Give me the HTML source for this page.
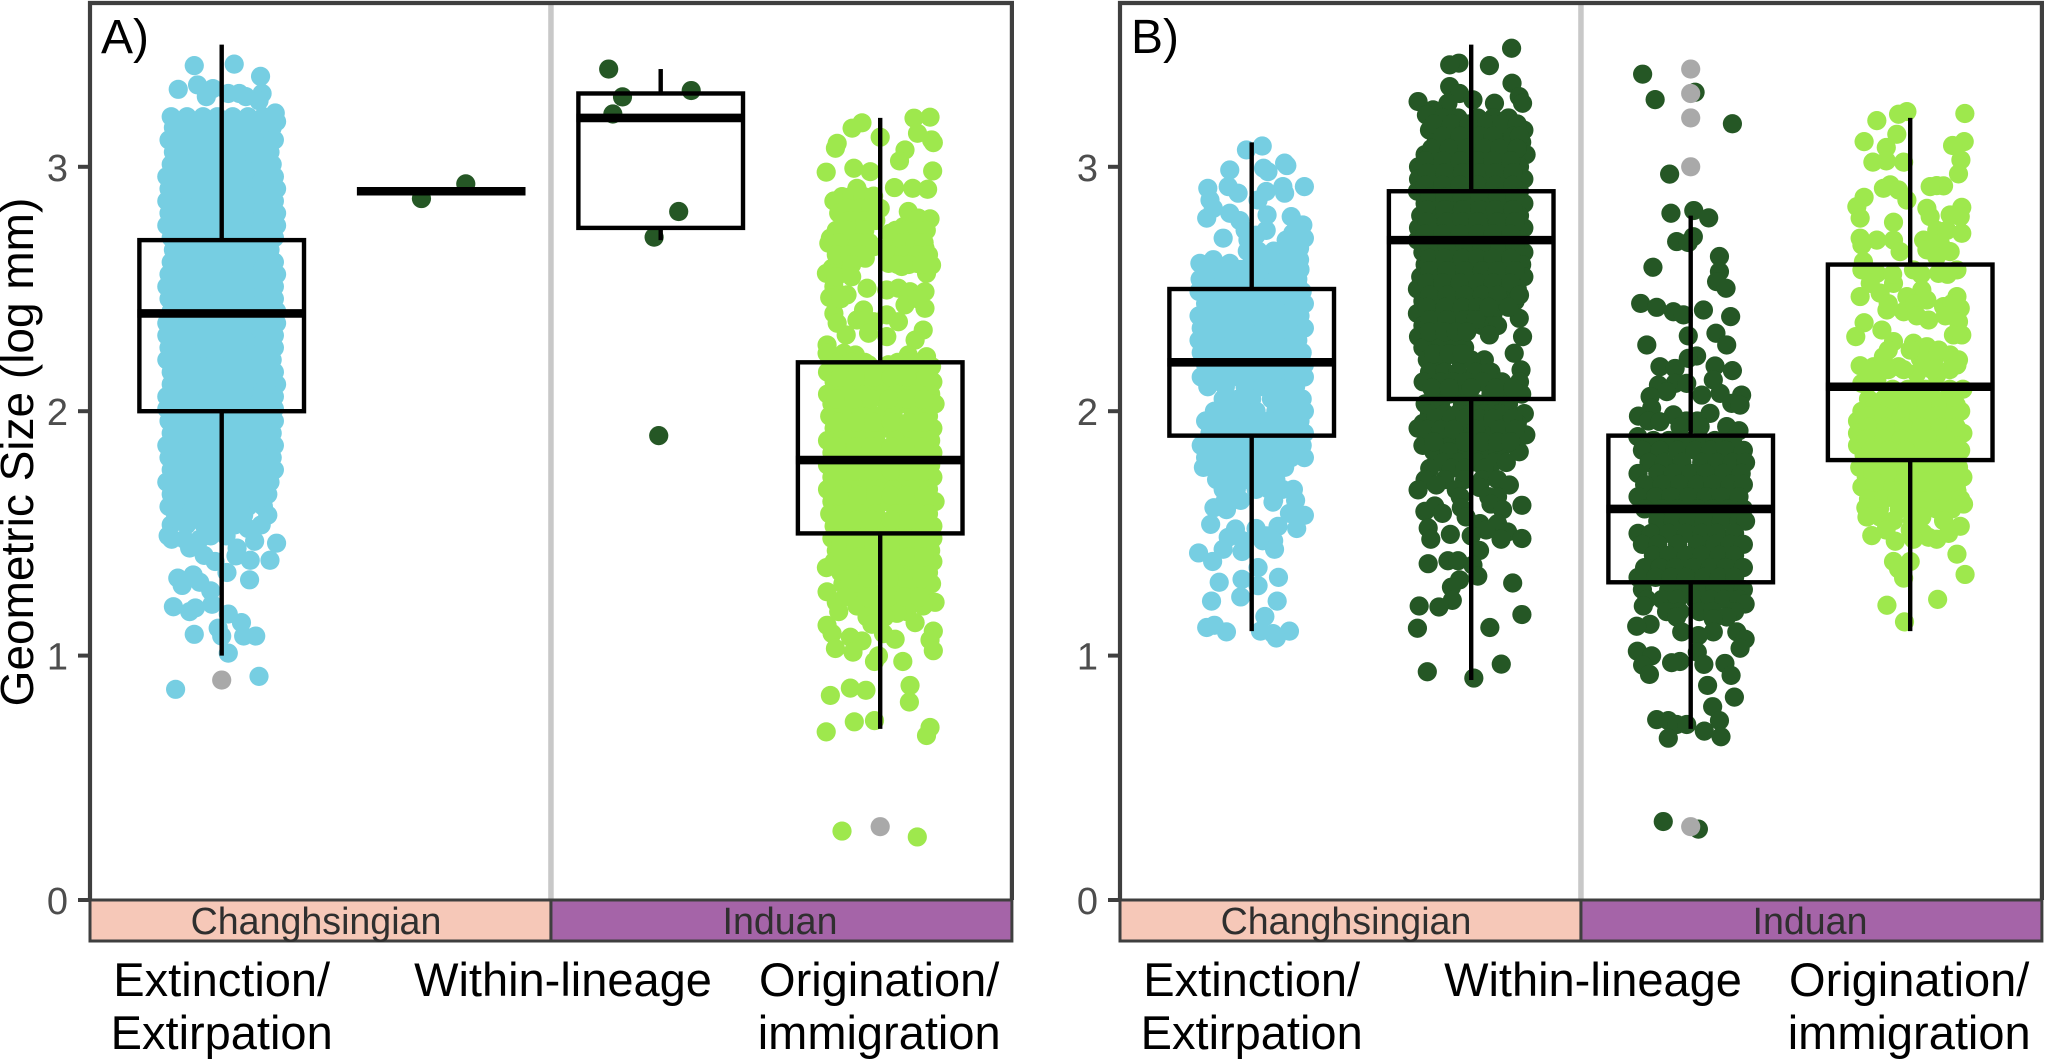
<!DOCTYPE html>
<html lang="en">
<head>
<meta charset="utf-8">
<title>Geometric size across the extinction boundary</title>
<style>
html,body{margin:0;padding:0;background:#fff}
svg{display:block;font-family:"Liberation Sans",sans-serif}
</style>
</head>
<body>
<svg id="chart" xmlns="http://www.w3.org/2000/svg" width="2045" height="1060" viewBox="0 0 2045 1060">
<rect x="0" y="0" width="2045" height="1060" fill="#fff"/>
<text x="33" y="452" transform="rotate(-90 33 452)" text-anchor="middle" font-size="46" fill="#000">Geometric Size (log mm)</text>
</svg>
<script>
// Axis data
const yTicks = [0, 1, 2, 3];
const periods = ['Changhsingian', 'Induan'];
const categoryLines = [['Extinction/', 'Extirpation'], ['Within-lineage'], ['Origination/', 'immigration']];

// Box statistics, panel A
const whiskerLowA = [1.0, 2.9, 2.7, 0.7];
const q1A = [2.0, 2.9, 2.75, 1.5];
const medianA = [2.4, 2.9, 3.2, 1.8];
const q3A = [2.7, 2.9, 3.3, 2.2];
const whiskerHighA = [3.5, 2.9, 3.4, 3.2];
const outliersA = [[0.9], [], [], [0.3]];

// Box statistics, panel B
const whiskerLowB = [1.1, 0.9, 0.7, 1.1];
const q1B = [1.9, 2.05, 1.3, 1.8];
const medianB = [2.2, 2.7, 1.6, 2.1];
const q3B = [2.5, 2.9, 1.9, 2.6];
const whiskerHighB = [3.1, 3.5, 2.8, 3.2];
const outliersB = [[], [], [3.4, 3.3, 3.2, 3.0, 0.3], []];

// Points: each row is [size, jitter, jitter, ...]
const pointsA1 = [
[3.42,.057],[3.414,-.125],[3.37,.177],[3.335,-.11],[3.32,-.04],[3.317,-.198],[3.3,.03,.08,.184],[3.287,-.07,.11],[3.27,.17],
[3.22,.244],[3.205,-.23,-.158,-.085,-.02,.05,.12,.19],[3.185,.25],
[3.16,-.22,-.15,-.07,.01,.08,.15,.23],[3.11,-.24,-.18,-.11,-.03,.04,.12,.19,.24],[3.06,-.22,-.15,-.07,.0,.08,.16,.22],[3.01,-.23,-.17,-.1,-.03,.05,.12,.19,.23],
[2.96,-.25,-.16,-.08,.01,.08,.15,.24],[2.91,-.24,-.18,-.11,-.03,.04,.11,.19,.25],[2.86,-.25,-.15,-.07,.0,.07,.16,.24],[2.81,-.24,-.18,-.1,-.03,.05,.12,.19,.25],
[2.76,-.25,-.15,-.08,.01,.08,.16,.25],[2.71,-.23,-.18,-.11,-.03,.04,.12,.19,.24],[2.66,-.22,-.15,-.07,.0,.08,.15,.22],[2.61,-.23,-.17,-.1,-.03,.05,.12,.19,.24],
[2.56,-.24,-.16,-.08,.01,.08,.16,.25],[2.51,-.25,-.18,-.11,-.03,.04,.11,.19,.24],[2.46,-.24,-.15,-.07,.0,.07,.16,.24],[2.41,-.23,-.18,-.1,-.03,.05,.12,.19,.25],
[2.36,-.25,-.15,-.08,.01,.08,.16,.25],[2.31,-.25,-.18,-.11,-.03,.04,.12,.19,.24],[2.26,-.24,-.15,-.07,.0,.08,.15,.24],[2.21,-.25,-.17,-.1,-.03,.05,.12,.19,.23],
[2.16,-.23,-.16,-.08,.01,.08,.16,.24],[2.11,-.23,-.18,-.11,-.03,.04,.11,.19,.25],[2.06,-.25,-.15,-.07,.0,.07,.16,.24],[2.01,-.25,-.18,-.1,-.03,.05,.12,.19,.24],
[1.96,-.24,-.15,-.08,.01,.08,.16,.24],[1.91,-.23,-.18,-.11,-.03,.04,.12,.19,.23],[1.86,-.25,-.15,-.07,.0,.08,.15,.24],[1.81,-.24,-.17,-.1,-.03,.05,.12,.19,.23],
[1.76,-.23,-.16,-.08,.01,.08,.16,.24],[1.71,-.25,-.18,-.11,-.03,.04,.11,.19,.22],[1.66,-.23,-.15,-.07,.0,.07,.16,.21],[1.61,-.24,-.18,-.1,-.03,.05,.12,.19],
[1.575,.21,-.21,-.13,-.05,.02,.1],[1.535,.18,-.23,-.16,-.08,-.01,.06],[1.52,.12],
[1.49,-.244,-.05,.02],[1.476,-.228,-.17,-.1],[1.468,.15],[1.46,.25],[1.44,-.146,.07],[1.41,-.08],[1.408,.065],[1.39,.22,.13],[1.385,-.03],
[1.34,.024],[1.33,-.13],[1.317,-.2],[1.31,.127],[1.3,-.1],[1.287,-.18],[1.265,-.05],[1.21,-.044],[1.2,-.22],[1.195,-.12],[1.18,-.146],[1.17,.03],
[1.135,.09],[1.112,-.016],[1.087,-.125],[1.08,0,.1,.155],[1.01,.03],[.915,.17],[.862,-.21]
];
const denseA1 = [
[3.135,-.19,-.12,-.04,.05,.1,.17],[3.085,-.2,-.13,-.06,.02,.1,.17,.21],[3.035,-.19,-.11,-.05,.03,.09,.15,.21],[2.985,-.2,-.12,-.04,.04,.11,.19,.22],
[2.935,-.21,-.13,-.06,.02,.1,.18],[2.885,-.21,-.13,-.05,.03,.1,.17,.22],[2.835,-.2,-.12,-.04,.04,.11,.19],[2.785,-.21,-.13,-.06,.02,.1,.18,.22],
[2.735,-.2,-.12,-.05,.03,.09,.17,.21],[2.685,-.19,-.12,-.04,.04,.11,.18],[2.635,-.2,-.13,-.06,.02,.1,.17,.21],[2.585,-.2,-.12,-.05,.03,.1,.19,.22],
[2.535,-.21,-.13,-.05,.02,.09,.17],[2.485,-.2,-.12,-.04,.04,.11,.19,.22],[2.435,-.21,-.13,-.06,.02,.09,.17,.22],[2.385,-.2,-.12,-.05,.03,.1,.19],
[2.335,-.21,-.13,-.05,.02,.1,.18,.22],[2.285,-.2,-.12,-.04,.03,.11,.19],[2.235,-.21,-.13,-.06,.02,.09,.17,.21],[2.185,-.2,-.12,-.05,.03,.1,.18,.22],
[2.135,-.21,-.13,-.05,.02,.09,.16,.22],[2.085,-.2,-.12,-.04,.03,.1,.19],[2.035,-.21,-.13,-.06,.02,.09,.17,.22],[1.985,-.2,-.12,-.05,.03,.1,.18,.21],
[1.935,-.21,-.13,-.06,.02,.09,.16],[1.885,-.2,-.12,-.04,.03,.1,.18,.22],[1.835,-.21,-.13,-.05,.02,.09,.16],[1.785,-.2,-.12,-.05,.03,.1,.19,.22],
[1.735,-.21,-.13,-.06,.02,.08,.16],[1.685,-.2,-.12,-.04,.03,.1,.17],[1.635,-.21,-.13,-.05,.02,.09,.16]
];
const pointsA2 = [[2.93,.112],[2.87,-.09]];
const pointsA3 = [[3.4,-.237],[3.312,.139],[3.286,-.174],[3.216,-.218],[2.817,.082],[2.712,-.03],[1.9,-.009]];
const pointsA4 = [
[3.203,.227],[3.199,.154],[3.18,-.083],[3.158,-.128],[3.137,.17],[3.121,0],[3.11,.234],[3.099,.242],[3.096,-.196],[3.076,-.204],[3.069,.113],[3.024,.088],
[2.994,-.12],[2.983,.239],[2.98,-.045],[2.978,-.246],[2.915,.065],[2.912,.148,-.106],[2.908,.216],[2.878,-.174],[2.87,-.045],[2.86,-.211],[2.844,-.113],[2.83,0],
[2.817,.128],[2.81,-.045,-.189],[2.796,-.128],[2.79,.174],[2.787,.227],[2.755,.106],[2.728,.196,.045],[2.714,-.09],[2.708,-.227],[2.694,.128],[2.687,-.234,-.136],
[2.673,-.03],[2.667,.03,.204],[2.66,-.181],[2.646,.083],[2.626,-.068],[2.605,.166,.038],[2.598,.234],[2.592,-.174,.098],[2.585,-.219],[2.564,-.245,.211],
[2.51,-.211],[2.503,-.06,.083],[2.496,.03],[2.489,.136,.204],[2.476,-.151],[2.465,-.23],[2.435,.113],[2.421,.204],[2.414,-.076],[2.4,-.211],[2.394,.03],[2.373,-.106],
[2.366,.083,-.03],[2.36,-.196],[2.332,.196],[2.319,-.053],[2.312,-.155],[2.305,.03],[2.291,.159],[2.271,-.242],[2.237,-.242,-.166],[2.23,-.113,.128],[2.223,.211],
[2.19,-.053,.038],[2.183,.234],[2.16,-.24,-.17,-.1,.0,.07,.16],
[2.12,-.21,-.14,-.06,.02,.1,.18,.24],[2.07,-.24,-.17,-.09,-.01,.07,.14,.23],[2.03,-.22,-.14,-.06,.03,.11,.18,.25],[1.98,-.23,-.17,-.09,-.02,.06,.15,.22],
[1.93,-.21,-.13,-.05,.03,.11,.19,.24],[1.88,-.24,-.17,-.09,-.02,.07,.15,.23],[1.83,-.22,-.14,-.05,.03,.1,.18,.24],[1.78,-.24,-.17,-.09,-.01,.07,.15,.23],
[1.73,-.22,-.14,-.05,.03,.11,.19,.24],[1.68,-.24,-.17,-.09,-.02,.06,.14,.22],[1.63,-.22,-.14,-.06,.03,.11,.18,.25],[1.58,-.23,-.17,-.09,-.02,.07,.15,.22],
[1.53,-.21,-.13,-.05,.03,.11,.19,.24],[1.48,-.22,-.15,-.08,.01,.09,.16,.24],[1.43,-.2,-.12,-.04,.04,.12,.2,.23],[1.385,-.21,-.14,-.07,.02,.09,.17,.24],
[1.36,-.245],[1.34,-.18,-.1,-.01,.07,.15,.22],[1.294,.234,-.17,-.1,.03,.1,.17],[1.261,-.242,-.13,-.04,.05,.13,.2],[1.218,.25,-.2,-.11,.0,.08,.14],
[1.203,.196,-.106,-.03],[1.18,-.189,.05,.12],[1.173,.076],[1.158,-.06,.02],[1.135,.159],[1.128,-.038],[1.124,-.242],[1.1,.242],[1.09,-.219,.015],[1.075,-.136],
[1.067,.068],[1.064,.227],[1.06,-.083],[1.029,-.204],[1.02,.242],[1.014,-.124],[.999,-.008],[.976,.103,-.026],[.878,.136],[.867,-.136],[.858,-.065],[.837,-.227],[.81,.133],
[.734,-.026],[.729,-.118],[.706,.227],[.688,-.246],[.673,.211],[.282,-.174],[.258,.169]
];
const denseA4 = [
[2.88,-.13,-.08,-.03],[2.83,-.15,-.09,-.04],[2.78,-.14,-.07,-.02],
[2.74,-.2,-.15,-.07,.07,.12,.17,.21],[2.69,-.19,-.1,-.05,.06,.1,.16,.2],[2.64,-.2,-.14,-.09,.05,.11,.17,.22],[2.6,-.13,.08,.13,.19],
[2.55,-.2,-.13],[2.46,-.18,.17],[2.2,-.2,-.13,-.07,.08,.13,.19],
[2.14,-.18,-.11,-.03,.05,.12,.21],[2.05,-.2,-.12,-.04,.04,.12,.2],[1.955,-.19,-.11,-.03,.05,.13,.2],[1.855,-.2,-.11,-.04,.05,.12,.2],
[1.755,-.19,-.11,-.03,.05,.13,.2],[1.655,-.19,-.1,-.02,.05,.12,.2],[1.555,-.19,-.11,-.04,.05,.13,.2],[1.455,-.18,-.11,-.03,.05,.13,.2],
[1.405,-.17,-.1,-.02,.06,.13,.2],[1.315,-.14,-.05,.04,.14,.19],[1.24,-.16,-.06,.04,.11,.18]
];
const pointsB1 = [
[3.085,.048],[3.069,-.024],[3.015,.15],[3.005,.16],[2.994,.054],[2.987,-.1],[2.98,.074],[2.919,.24,-.107,.142],[2.912,-.2],[2.892,-.062,.15],[2.899,.066],
[2.864,.029,-.19],[2.83,-.175],[2.81,-.1],[2.803,.07],[2.796,.18],[2.79,-.205],[2.78,-.054],[2.762,.233],[2.74,.066,-.03],[2.728,.187],[2.72,.02],
[2.708,-.13,.24],[2.7,.157,-.017],[2.667,.218],[2.655,.03,-.02,.1,.17],[2.62,.218,-.175],[2.605,-.236,-.1,.0,.06,.13],[2.58,-.19,-.05,.03,.09,.17,.22],
[2.54,-.235,-.15,-.08,.0,.07,.14,.21],[2.49,-.24,-.17,-.09,-.02,.05,.13,.23],[2.44,-.21,-.14,-.06,.02,.09,.17,.24],[2.39,-.24,-.17,-.1,-.02,.06,.14,.22],
[2.34,-.23,-.14,-.07,.01,.09,.17,.24],[2.29,-.24,-.16,-.09,-.02,.06,.14,.21],[2.24,-.23,-.14,-.06,.02,.09,.17,.23],[2.19,-.21,-.16,-.09,-.02,.05,.13,.24],
[2.14,-.23,-.14,-.06,.02,.09,.17,.24],[2.1,-.2,-.12,-.03,.05,.12,.2],[2.05,-.13,-.06,.0,.09,.17,.23],[2.0,-.17,-.1,-.03,.02,.11,.19,.24],[1.96,-.21,-.13,-.06,.0,.08,.15,.22],
[1.91,-.19,-.12,-.04,.04,.12,.19,.24],[1.86,-.23,-.15,-.07,.01,.09,.16,.23],[1.81,-.21,-.14,-.05,.03,.1,.18,.24],[1.77,-.22,-.15,-.08,.0,.07,.15],
[1.72,-.16,-.09,-.03,.04,.11],[1.68,-.13,-.07,.02,.08,.14,.19],[1.635,.2,-.12,-.05,.1],[1.628,.097],[1.605,-.172],[1.597,-.115],[1.582,.172],[1.574,.24],
[1.537,-.187],[1.529,.12],[1.52,.02,.205],[1.518,-.074],[1.49,.066],[1.484,-.107],[1.47,-.04,.05,.1],[1.435,-.13,.104],[1.426,-.044],[1.42,-.242],[1.385,-.178],[1.36,.029],
[1.32,.122],[1.312,-.044],[1.3,-.148],[1.286,.029],[1.24,-.05],[1.223,-.183,.116],[1.16,.06],[1.124,-.17],[1.115,-.205],[1.1,.04,.172],[1.097,-.115],[1.09,.097],[1.072,.112]
];
const denseB1 = [
[2.565,-.21,-.13,-.11,.02,.12,.19],[2.515,-.2,-.13,-.05,.03,.09,.17,.21],[2.465,-.19,-.11,-.03,.05,.12,.2],[2.415,-.19,-.12,-.04,.04,.11,.19],
[2.365,-.2,-.12,-.04,.04,.12,.19],[2.315,-.19,-.11,-.04,.03,.11,.19],[2.265,-.2,-.11,-.03,.05,.12,.19],[2.215,-.19,-.11,-.04,.03,.11,.2],
[2.165,-.19,-.11,-.04,.04,.11,.2],[1.935,-.16,-.08,.0,.08,.15,.21],[1.885,-.2,-.1,-.02,.06,.14,.2],[1.835,-.18,-.11,-.02,.06,.13,.2]
];
const pointsB2 = [
[3.485,.184],[3.424,-.056],[3.417,-.098],[3.414,.083],[3.342,.186],[3.328,-.098],[3.3,-.053],[3.287,.219],[3.274,.008],[3.267,-.242],[3.26,.106,.234,-.106],[3.233,-.174],[3.212,-.204],
[3.2,-.13,-.06,.03,.1,.17],[3.15,-.19,-.11,-.03,.05,.12,.2,.24],[3.1,-.16,-.08,.0,.08,.15,.23],[3.05,-.21,-.13,-.05,.03,.11,.19,.25],[3.0,-.24,-.17,-.09,-.01,.06,.14,.22],
[2.95,-.24,-.16,-.08,.0,.08,.16,.24],[2.9,-.245,-.17,-.09,-.01,.07,.14,.22],[2.85,-.21,-.15,-.07,.01,.09,.17,.24],[2.8,-.23,-.16,-.09,-.01,.06,.14,.22],
[2.75,-.24,-.15,-.07,.0,.08,.17,.24],[2.7,-.245,-.17,-.09,-.02,.06,.14,.22],[2.65,-.22,-.14,-.07,.01,.09,.17,.24],[2.6,-.21,-.16,-.08,-.01,.06,.14,.23],
[2.55,-.23,-.15,-.07,.01,.08,.16,.24],[2.5,-.245,-.17,-.09,-.02,.06,.14,.21],[2.45,-.22,-.14,-.07,.01,.09,.16,.2],[2.4,-.245,-.16,-.08,-.01,.04,.1],
[2.38,.219],[2.35,-.22,-.14,-.07,.0,.05,.12],[2.312,.083],[2.305,.234,-.24,-.16,-.1,-.05],[2.26,-.22,-.14,-.08,-.03],[2.237,.196],[2.21,.06,-.2,-.13,-.05,.0],[2.169,.227],
[2.16,-.19,-.12,-.06,.02,.09],[2.12,-.219,-.14,-.08,-.02,.05,.14,.22],[2.07,-.17,-.1,-.03,.09,.16,.23],[2.03,-.21,-.14,-.04,.03,.1,.17],
[1.99,.242,-.19,-.12,-.06,.0,.06,.13],[1.95,-.22,-.14,-.07,.02,.08,.17,.21],[1.93,-.242],[1.903,.249,-.18,-.11,-.04,.03,.1,.16],[1.86,-.22,-.13,-.06,.01,.08,.15],
[1.834,.219,-.17,-.1,-.02,.05,.12],[1.79,-.13,-.06,.03,.1,.16],[1.766,-.189,-.09,-.03,.06],[1.72,-.21,-.12,-.03,.05,.12],[1.698,.174,-.159],[1.688,.038],[1.678,-.242,-.068],[1.65,-.05,.08,.12],
[1.62,.09],[1.615,.231],[1.612,-.166],[1.605,-.045],[1.597,.143],[1.59,-.211],[1.582,-.131],[1.567,-.023],[1.54,.04,.12],[1.522,-.196],[1.514,.068],[1.506,.166],[1.496,-.095],[1.49,0],
[1.479,.231],[1.476,-.184,.136],[1.43,.038],[1.388,-.106,-.06],[1.376,-.196],[1.37,.008],[1.325,.03],[1.31,-.053],[1.297,.189],[1.28,-.09],[1.226,-.086],[1.203,-.237],[1.199,-.147],
[1.168,.231],[1.115,.085],[1.112,-.245],[.965,.137],[.934,-.2],[.908,.012]
];
const denseB2 = [
[3.175,-.17,-.09,-.01,.07,.14,.21],[3.125,-.13,-.05,.04,.1,.19,.22],[3.075,-.18,-.1,-.02,.06,.13,.21],[3.025,-.21,-.13,-.05,.03,.1,.18],
[2.975,-.2,-.12,-.04,.04,.11,.19],[2.925,-.21,-.13,-.05,.03,.11,.19],[2.875,-.19,-.12,-.04,.04,.12,.2],[2.825,-.2,-.12,-.04,.04,.11,.19],
[2.775,-.2,-.11,-.04,.03,.12,.2],[2.725,-.21,-.13,-.05,.03,.1,.18],[2.675,-.19,-.11,-.03,.05,.13,.2],[2.625,-.19,-.12,-.04,.03,.1,.18],
[2.575,-.19,-.11,-.03,.05,.12,.2],[2.525,-.2,-.13,-.05,.03,.1,.18],[2.475,-.19,-.11,-.03,.05,.12,.22],[2.425,-.2,-.12,-.04,.03,.08,.17],
[2.375,-.19,-.11,-.03,.02],[2.325,-.19,-.12,-.07,-.02],[2.235,-.17,-.1,-.04],[2.095,-.18,-.1,.0,.11,.19],[1.97,-.16,-.09,-.03,.04,.1,.19],[1.925,-.2,-.14,-.08,.02,.13,.2],[1.875,-.17,-.03,.05,.12,.18]
];
const pointsB3 = [
[3.379,-.219],[3.305,.02],[3.275,-.162],[3.176,.19],[2.97,-.096],[2.821,.014],[2.81,-.09],[2.791,.082],[2.714,.012],[2.694,-.064],[2.69,-.011],[2.633,.131],[2.589,-.172],[2.571,.131],[2.53,.118],[2.503,.161],
[2.441,-.228],[2.425,-.155],[2.414,.058],[2.407,-.079],[2.394,-.033],[2.387,.182],[2.319,.115],[2.308,-.011],[2.271,.164,-.2],[2.226,.027],[2.216,-.011],[2.185,.111],[2.182,-.14],[2.175,-.071],[2.166,.19],
[2.128,.103],[2.114,-.071,-.018],[2.107,-.147],[2.08,-.109],[2.073,.134],[2.066,.05,.232],[2.06,-.185],[2.032,.187],[2.025,.225],[2.012,-.178],[1.991,.088],[1.985,-.079],[1.98,-.238],[1.96,-.193,-.02,.03],[1.957,-.14],[1.937,.164,.043,-.049],[1.92,.22],[1.896,-.241],
[1.88,-.17,-.1,-.03,.04,.11,.19],[1.84,-.22,-.14,-.06,.02,.09,.16,.24],[1.79,-.19,-.12,-.04,.05,.12,.19,.25],[1.745,-.24,-.15,-.08,.0,.07,.15,.23],[1.7,-.21,-.13,-.05,.03,.1,.18,.24],
[1.65,-.24,-.16,-.09,-.01,.07,.14,.22],[1.6,-.21,-.13,-.06,.03,.1,.17,.24],[1.55,-.15,-.08,-.01,.06,.14,.22,.25],[1.5,-.24,-.18,-.1,-.02,.05,.12,.2],[1.455,-.22,-.15,-.06,.03,.11,.18,.24],
[1.41,-.17,-.1,-.02,.05,.13,.2],[1.36,-.21,-.14,-.07,.01,.09,.16,.24],[1.32,-.24,-.16,-.09,-.02,.06,.13,.2],[1.27,-.22,-.1,-.03,.04,.11,.18,.24],[1.23,-.2,-.13,-.06,.02,.09,.15,.22],
[1.211,.248],[1.203,-.216],[1.18,-.11,-.05,.04,.1,.2],[1.158,-.064,.164],[1.15,.103],[1.128,-.185],[1.12,-.246],[1.097,-.041,.103,.21],[1.082,.035],[1.067,.248],[1.03,.225],[1.018,-.243],[1.014,.03],[.999,-.178],
[.976,-.049],[.971,-.087],[.968,.156],[.964,.06],[.961,-.219],[.923,-.188],[.919,.184],[.878,.077],[.83,.199],[.791,.1],[.738,-.155],[.734,-.102,.131],[.718,-.064,-.018],[.691,.062],[.668,.138],[.662,-.102],[.321,-.125],[.29,.035]
];
const pointsB4 = [
[3.226,-.015],[3.218,.249],[3.215,-.053],[3.189,-.152],[3.133,-.061],[3.103,.246,-.21],[3.087,.193],[3.079,-.109],[3.028,.231],[3.024,-.109],[3.019,-.17,-.03],[2.971,.22],[2.926,-.091],[2.923,.121],[2.922,.152],[2.919,.091],
[2.912,-.122],[2.905,-.053],[2.875,-.21],[2.864,-.015],[2.837,-.243],[2.834,.235],[2.83,.076],[2.803,.182],[2.796,.228,.091],[2.79,-.228],[2.773,-.076],[2.74,.121,.167],[2.728,.235],[2.708,-.228],[2.7,-.152,-.076,.061],[2.687,.137],[2.68,-.22],
[2.66,.076],[2.653,-.046,.182],[2.633,.12],[2.612,-.213],[2.578,.213,.015,-.22],[2.564,.129,-.152],[2.523,-.076,-.182],[2.496,.053],[2.483,-.137],[2.469,-.228,-.015,.213],[2.455,.076],[2.428,.152],[2.421,.228],[2.414,-.106],[2.407,-.03],
[2.373,.084],[2.366,.22],[2.362,-.21],[2.332,-.129],[2.312,.197,.235],[2.305,-.248],[2.285,-.076],[2.278,.015],[2.264,.076],[2.23,.182],[2.223,-.122],[2.216,.046],[2.21,.22],[2.203,.106],[2.189,.213],[2.186,-.228],[2.182,-.167,-.053],[2.155,.03],[2.148,.121],
[2.128,-.152],[2.114,-.22],[2.09,-.08,-.01,.07,.18,.24],[2.05,-.19,-.12,-.04,.04,.11,.2],[2.0,-.22,-.15,-.07,.01,.09,.16,.23],[1.96,-.24,-.18,-.1,-.03,.05,.13,.2],[1.91,-.24,-.14,-.07,.02,.1,.18,.24],
[1.86,-.24,-.17,-.1,-.02,.05,.13,.21],[1.82,-.21,-.14,-.06,.03,.09,.2],[1.77,-.23,-.16,-.09,-.01,.07,.14,.22],[1.73,-.2,-.13,-.05,.03,.1,.17,.24],[1.69,-.22,-.16,-.08,.0,.07,.15,.21],[1.673,.213],
[1.64,-.19,-.12,-.06,.02,.09,.16,.23],[1.62,.243],[1.605,-.202],[1.6,-.14,-.05,.04,.12,.19],[1.567,-.197,-.137,.053],[1.552,-.076,.152,.01],[1.529,.228],[1.514,0,-.11],[1.5,.175,.06],[1.491,-.175],[1.484,.084],[1.476,.121,.015],[1.468,-.068],
[1.415,.213],[1.385,0,-.076],[1.355,-.053],[1.332,.25],[1.317,-.03],[1.23,.125],[1.206,-.106],[1.138,-.026]
];
const denseB4 = [
[2.56,.05,.17,-.08],[2.44,.02,.19,-.1],[2.39,.03,.16],[2.25,.04,.13,-.1,.0],[2.17,-.1,-.03,.1,.18,-.18],
[2.025,-.16,-.09,-.01,.07,.14,.21],[1.98,-.19,-.12,-.04,.04,.12,.2],[1.935,-.19,-.11,-.03,.05,.14,.21],[1.885,-.2,-.12,-.04,.03,.09,.16],
[1.84,-.18,-.1,-.02,.06,.14,.23],[1.795,-.19,-.12,-.05,.03,.1,.18],[1.75,-.17,-.09,-.02,.05,.12,.19],[1.71,-.16,-.03,.02,.07,.13,.19]
];

const pointSeriesA = [pointsA1.concat(denseA1), pointsA2, pointsA3, pointsA4.concat(denseA4)];
const pointSeriesB = [pointsB1.concat(denseB1), pointsB2.concat(denseB2), pointsB3, pointsB4.concat(denseB4)];
const seriesColors = ['#76CEE2', '#255725', '#255725', '#9EE84D'];

const svg = document.getElementById('chart');
const NS = 'http://www.w3.org/2000/svg';
const INK = '#3F3F3F';
const unit = 219.5;

function y(v) { return 900 - 244.4 * v; }
function x(left, cat, jitter) { return left + (0.6 + cat + (jitter || 0)) * unit; }
function mk(tag, attrs, parent) {
  const el = document.createElementNS(NS, tag);
  for (const k in attrs) el.setAttribute(k, attrs[k]);
  parent.appendChild(el);
  return el;
}

function drawPanel(id, left, pts, wLow, q1, med, q3, wHigh, outs) {
  const g = mk('g', {}, svg);
  
  
  const right = left + 4.2 * unit;
  const sep = x(left, 1.5);

  const bg = mk('rect', {x: left, y: 3, width: right - left, height: 897, fill: '#fff'}, g);
  
  

  const divider = mk('line', {x1: sep, x2: sep, y1: 3, y2: 900, stroke: '#C8C8C8', 'stroke-width': 5.5}, g);
  
  

  pts.forEach(function (rows, cat) {
    rows.forEach(function (row) {
      for (let i = 1; i < row.length; i++) {
        const c = mk('circle', {cx: x(left, cat, row[i]), cy: y(row[0]), r: 9.6, fill: seriesColors[cat]}, g);
        
        
      }
    });
  });

  q1.forEach(function (_, cat) {
    const cx = x(left, cat);
    const half = 0.375 * unit;
    outs[cat].forEach(function (v) {
      const o = mk('circle', {cx: cx, cy: y(v), r: 9.6, fill: '#A9A9A9'}, g);
      
      
    });
    if (wHigh[cat] > q3[cat]) {
      const up = mk('line', {x1: cx, x2: cx, y1: y(wHigh[cat]), y2: y(q3[cat]), stroke: '#000', 'stroke-width': 4.4}, g);
      
      
    }
    if (wLow[cat] < q1[cat]) {
      const down = mk('line', {x1: cx, x2: cx, y1: y(q1[cat]), y2: y(wLow[cat]), stroke: '#000', 'stroke-width': 4.4}, g);
      
      
    }
    if (q3[cat] > q1[cat]) {
      const box = mk('rect', {x: cx - half, y: y(q3[cat]), width: 2 * half, height: y(q1[cat]) - y(q3[cat]), fill: 'none', stroke: '#000', 'stroke-width': 4.4}, g);
      
      
    }
    const m = mk('line', {x1: cx - half - 2, x2: cx + half + 2, y1: y(med[cat]), y2: y(med[cat]), stroke: '#000', 'stroke-width': 8.6}, g);
    
    
  });

  const border = mk('path', {d: 'M' + left + ' 900V3H' + right + 'V900', fill: 'none', stroke: INK, 'stroke-width': 4.2}, g);
  
  

  yTicks.forEach(function (t) {
    const tick = mk('line', {x1: left - 12, x2: left, y1: y(t), y2: y(t), stroke: INK, 'stroke-width': 4}, g);
    
    
    const lab = mk('text', {x: left - 22, y: y(t) + 14, 'text-anchor': 'end', 'font-size': 38, fill: '#4D4D4D'}, g);
    
    
    lab.textContent = t;
  });

  const pink = mk('rect', {x: left, y: 900, width: sep - left, height: 41, fill: '#F6C8B8', stroke: INK, 'stroke-width': 3}, g);
  
  
  const purple = mk('rect', {x: sep, y: 900, width: right - sep, height: 41, fill: '#A564A8', stroke: INK, 'stroke-width': 3}, g);
  
  

  const centers = [left + 226, left + 690];
  periods.forEach(function (p, i) {
    const t = mk('text', {x: centers[i], y: 934, 'text-anchor': 'middle', 'font-size': 37.6, fill: '#2F2F2F'}, g);
    
    
    t.textContent = p;
  });

  const labelX = [x(left, 0), left + 473, x(left, 3) - 1];
  categoryLines.forEach(function (lines, i) {
    lines.forEach(function (line, j) {
      const t = mk('text', {x: labelX[i], y: 996 + j * 53, 'text-anchor': 'middle', 'font-size': 47, fill: '#000'}, g);
      
      
      t.textContent = line;
    });
  });

  const tag = mk('text', {x: left + 11, y: 53, 'font-size': 48, fill: '#000'}, g);
  
  
  tag.textContent = id + ')';
}

drawPanel('A', 90, pointSeriesA, whiskerLowA, q1A, medianA, q3A, whiskerHighA, outliersA);
drawPanel('B', 1120, pointSeriesB, whiskerLowB, q1B, medianB, q3B, whiskerHighB, outliersB);
</script>
</body>
</html>
